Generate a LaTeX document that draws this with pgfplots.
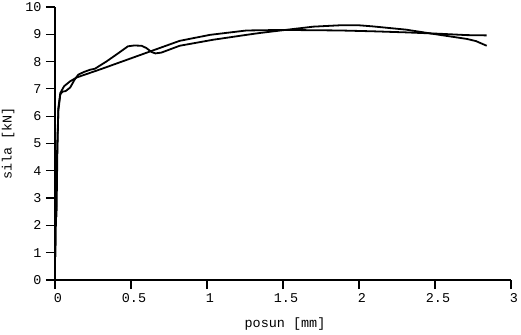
\documentclass[border=0pt]{standalone}
\usepackage{fontspec}
\setmainfont{Liberation Mono}
\usepackage{pgfplots}
\usetikzlibrary{calc}
\pgfplotsset{compat=1.18}
\begin{document}
\begin{tikzpicture}
\begin{axis}[
  scale only axis,
  width=456bp, height=273bp,
  xmin=0, xmax=3, ymin=0, ymax=10,
  axis lines=left,
  axis line style={-, line width=1.2bp},
  xtick={0,0.5,1,1.5,2,2.5,3},
  ytick={0,1,2,3,4,5,6,7,8,9,10},
  tick align=outside,
  major tick length=9bp,
  tick style={line width=1.2bp, black},
  /pgf/number format/assume math mode=true,
  tick label style={font=\fontsize{13.5}{15}\selectfont},
  xticklabel style={yshift=-1bp, xshift=3bp},
  yticklabel style={xshift=-1bp},
  xlabel={posun [mm]},
  ylabel={sila [kN]},
  label style={font=\fontsize{13.5}{15}\selectfont},
  xlabel style={yshift=-8bp, xshift=2bp},
  ylabel style={yshift=4bp},
  clip=false,
]
\coordinate (bl) at (rel axis cs:0,0);
\coordinate (tr) at (rel axis cs:1,1);
\addplot[black, line width=1.8bp] coordinates {
(0.003,0.85)(0.008,3.0)(0.015,5.0)(0.022,6.2)(0.035,6.8)(0.05,6.9)(0.07,6.92)
(0.1,7.05)(0.13,7.35)(0.153,7.52)(0.19,7.62)(0.23,7.70)(0.263,7.74)(0.30,7.87)
(0.34,8.01)(0.417,8.31)(0.48,8.56)(0.52,8.59)(0.57,8.58)(0.60,8.50)(0.636,8.35)
(0.66,8.30)(0.70,8.33)(0.82,8.58)(1.04,8.80)(1.26,8.98)(1.35,9.05)(1.5,9.15)
(1.7,9.28)(1.875,9.33)(2.0,9.33)(2.09,9.29)(2.31,9.17)(2.53,8.98)(2.71,8.83)
(2.77,8.75)(2.84,8.58)
};
\addplot[black, line width=1.8bp] coordinates {
(0.01,2.3)(0.015,4.5)(0.022,6.3)(0.035,6.85)(0.06,7.1)(0.1,7.28)(0.143,7.42)
(0.3,7.72)(0.5,8.12)(0.625,8.37)(0.82,8.76)(1.02,8.98)(1.26,9.14)(1.5,9.16)
(1.875,9.14)(2.09,9.11)(2.31,9.07)(2.53,9.02)(2.71,8.97)(2.84,8.96)
};
\end{axis}
\pgfresetboundingbox
\path[use as bounding box] ($(bl)+(-55bp,-55bp)$) rectangle ($(tr)+(10bp,7bp)$);
\end{tikzpicture}
\end{document}
